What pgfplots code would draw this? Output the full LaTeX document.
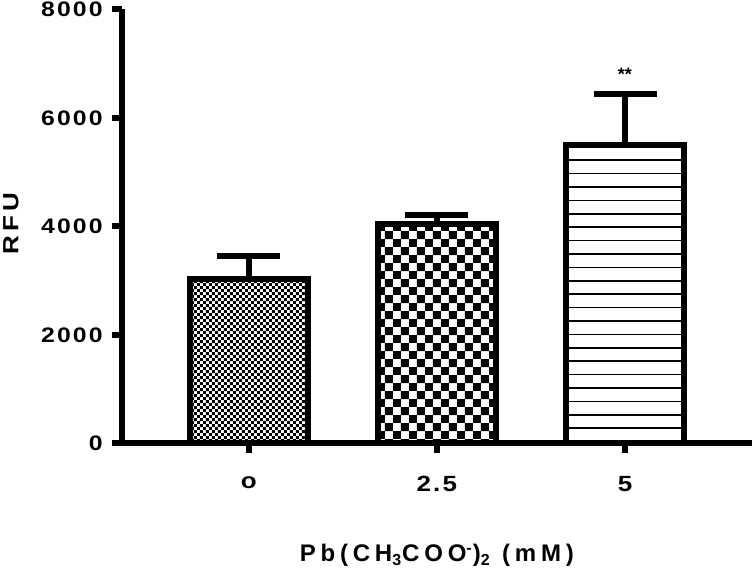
\documentclass[border=0pt]{standalone}
\usepackage{pgfplots}
\pgfplotsset{compat=1.18}
\usetikzlibrary{patterns}
\usepackage{fontspec}
\setmainfont{Liberation Sans}
\newfontfamily\spaced{Liberation Sans}[LetterSpace=10, FakeStretch=1.18]
\newfontfamily\spacedw{Liberation Sans}[LetterSpace=18, FakeStretch=1.18]
\newfontfamily\spacedx{Liberation Sans}[LetterSpace=20]
\newcommand\yf{\spaced\bfseries\fontsize{10.5}{12}\selectfont}
\newcommand\xf{\spaced\bfseries\fontsize{11}{13}\selectfont}
\newcommand\xl{\spacedx\bfseries\fontsize{12}{14}\selectfont}
\newcommand\rf{\spacedw\bfseries\fontsize{11}{13}\selectfont}

\pgfdeclarepatternformonly{finecheck}{\pgfpointorigin}{\pgfqpoint{3.2pt}{3.2pt}}{\pgfqpoint{3.2pt}{3.2pt}}{%
  \pgfpathrectangle{\pgfpointorigin}{\pgfqpoint{1.6pt}{1.6pt}}%
  \pgfpathrectangle{\pgfqpoint{1.6pt}{1.6pt}}{\pgfqpoint{1.6pt}{1.6pt}}%
  \pgfusepath{fill}}
\pgfdeclarepatternformonly{coarsecheck}{\pgfpointorigin}{\pgfqpoint{8.2pt}{8.2pt}}{\pgfqpoint{8.2pt}{8.2pt}}{%
  \pgfpathrectangle{\pgfpointorigin}{\pgfqpoint{4.1pt}{4.1pt}}%
  \pgfpathrectangle{\pgfqpoint{4.1pt}{4.1pt}}{\pgfqpoint{4.1pt}{4.1pt}}%
  \pgfusepath{fill}}
\pgfdeclarepatternformonly{hlines}{\pgfqpoint{-1pt}{0pt}}{\pgfqpoint{1pt}{6.7pt}}{\pgfqpoint{1pt}{6.7pt}}{%
  \pgfsetlinewidth{0.8pt}%
  \pgfpathmoveto{\pgfqpoint{-1pt}{3.35pt}}%
  \pgfpathlineto{\pgfqpoint{1pt}{3.35pt}}%
  \pgfusepath{stroke}}

\begin{document}
\begin{tikzpicture}
\begin{axis}[
  name=ax,
  scale only axis, width=315.15pt, height=217pt,
  xmin=-0.675, xmax=2.675, ymin=0, ymax=8000,
  axis x line=bottom, axis y line=left,
  axis line style={-, line width=3pt},
  xtick={0,1,2}, xticklabels={o,2.5,5},
  ytick={0,2000,4000,6000,8000},
  tick align=outside, major tick length=5pt,
  tick style={line width=3pt, black},
  minor tick num=0,
  /pgf/number format/assume math mode=true,
  /pgf/number format/1000 sep={},
  xticklabel style={font=\xf, yshift=-8pt},
  yticklabel style={font=\yf, xshift=-1pt},
  every axis x label/.style={at={(axis description cs:0.5,0)}, anchor=base, yshift=-59.25pt, font=\xl},
  every axis y label/.style={at={(axis description cs:0,0.5)}, xshift=-51.7pt, yshift=1.5pt, rotate=90, anchor=base, font=\rf},
  xlabel={Pb(CH\textsubscript{3}COO\textsuperscript{-})\textsubscript{2} (mM)},
  ylabel={RFU},
  ybar, bar width=59pt, bar shift=0pt,
  clip=false,
  error bars/y dir=plus, error bars/y explicit,
  error bars/error mark=|,
  error bars/error bar style={line width=3pt, black},
  error bars/error mark options={line width=3pt, mark size=15.75pt, black},
]
\addplot[draw=black, line width=3pt, pattern=finecheck]
  coordinates {(0,3030) +- (0,430)};
\addplot[draw=black, line width=3pt, pattern=coarsecheck]
  coordinates {(1,4046) +- (0,166)};
\addplot[draw=black, line width=3pt, pattern=hlines]
  coordinates {(2,5502) +- (0,946)};
\node[font=\bfseries\fontsize{9}{10}\selectfont] at (axis cs:2,6800) {**};
\end{axis}
\pgfresetboundingbox
\path ([xshift=-60.85pt, yshift=-62.75pt]ax.south west) rectangle ([xshift=1pt, yshift=4.75pt]ax.north east);
\end{tikzpicture}
\end{document}
